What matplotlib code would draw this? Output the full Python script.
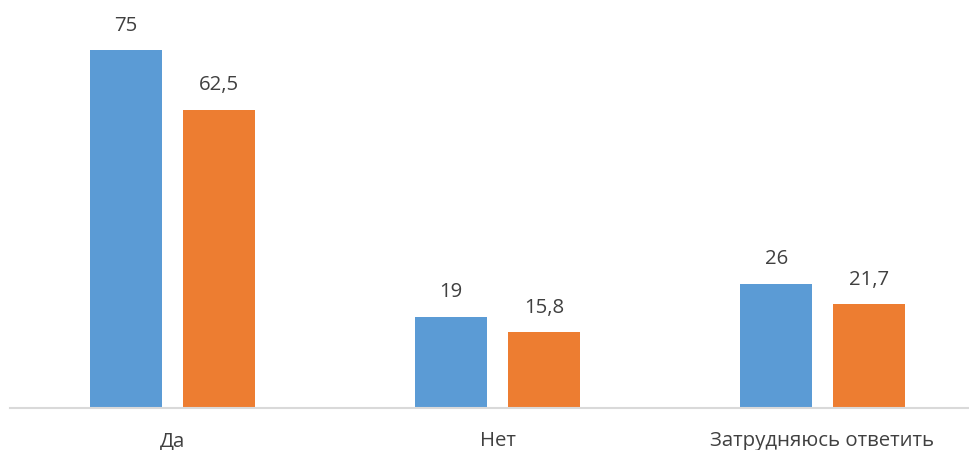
import matplotlib
matplotlib.use("Agg")
import matplotlib.pyplot as plt
import numpy as np

plt.rcParams['font.family'] = ['Open Sans', 'DejaVu Sans']

categories = ["Да", "Нет", "Затрудняюсь ответить"]
series1 = [75, 19, 26]
series2 = [62.5, 15.8, 21.7]
labels1 = ["75", "19", "26"]
labels2 = ["62,5", "15,8", "21,7"]

fig = plt.figure(figsize=(9.69, 4.5), dpi=100)
W, H = 969, 450
left, right = 10, 985
bottom = 407.5
ax = fig.add_axes([left / W, 1 - bottom / H, (right - left) / W, (bottom - 26.7) / H])

x = np.arange(len(categories))
bw = 0.222
off = 0.1425
b1 = ax.bar(x - off, series1, bw, color="#5B9BD5")
b2 = ax.bar(x + off, series2, bw, color="#ED7D31")
for bars, labs in ((b1, labels1), (b2, labels2)):
    for r, t in zip(bars, labs):
        ax.annotate(t, (r.get_x() + r.get_width() / 2, r.get_height()),
                    xytext=(0, 10.5), textcoords="offset points",
                    ha="center", va="bottom", fontsize=14.7, color="#404040")

ax.set_xlim(-0.5, 2.5)
ax.set_ylim(0, 80)
ax.set_xticks(x)
ax.set_xticklabels(categories, fontsize=14.7, color="#404040")
ax.tick_params(axis="x", length=0, pad=17)
ax.set_yticks([])
for s in ("top", "right", "left"):
    ax.spines[s].set_visible(False)
ax.spines["bottom"].set_color("#D9D9D9")
ax.spines["bottom"].set_linewidth(1.5)

fig.savefig("out.png", dpi=100)
